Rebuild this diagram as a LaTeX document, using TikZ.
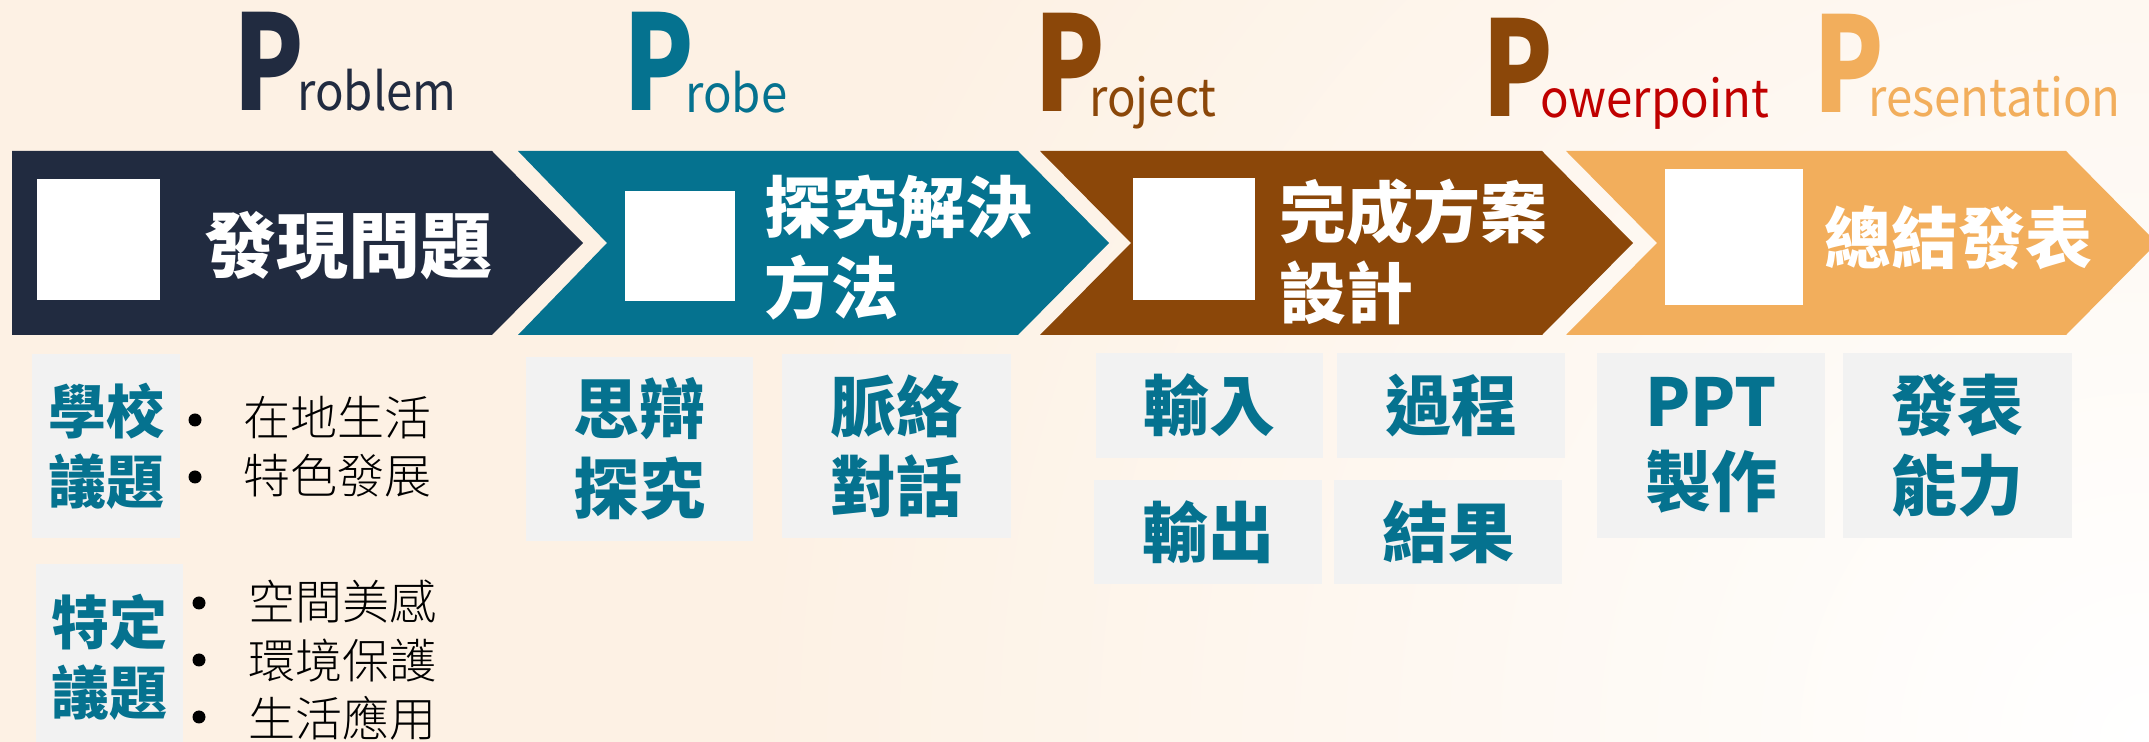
\documentclass[tikz,border=0pt]{standalone}
\usepackage{graphicx}
\usepackage{fontspec}
\setmainfont{Noto Sans CJK TC}
\newfontfamily\lightfont{Noto Sans CJK TC Light}
\newfontfamily\blackfont{Noto Sans CJK TC Black}

\definecolor{navy}{HTML}{212B40}
\definecolor{probeteal}{HTML}{05728F}
\definecolor{projbrown}{HTML}{8B4709}
\definecolor{presorange}{HTML}{F2AE5C}
\definecolor{pptred}{HTML}{C00000}
\definecolor{boxgray}{HTML}{F2F2F2}
\definecolor{cream}{HTML}{FDF1E4}

% narrow letters for the five P's
\newcommand{\bigletter}[1]{\scalebox{0.78}[1]{#1}}
\newcommand{\smallword}[1]{\scalebox{0.91}[1]{#1}}

\begin{document}
\begin{tikzpicture}[x=0.5pt,y=-0.5pt]
\tikzstyle{bigP}=[inner sep=0pt, anchor=base west, text height=49pt, text depth=0pt, font=\blackfont\fontsize{66}{66}\selectfont]
\tikzstyle{pword}=[inner sep=0pt, anchor=base west, font=\fontsize{26}{26}\selectfont]
\tikzstyle{stage}=[text=white, inner sep=0pt, align=left, font=\bfseries\fontsize{33.5}{40.5}\selectfont]
\tikzstyle{icon}=[fill=white, inner sep=0pt]
\tikzstyle{topic}=[fill=boxgray, text=probeteal, inner sep=0pt, align=center, font=\bfseries\fontsize{33}{40}\selectfont]
\tikzstyle{item}=[inner sep=0pt, anchor=west, font=\lightfont\fontsize{23.5}{29}\selectfont]
\tikzstyle{dot}=[circle, fill=black, inner sep=0pt, minimum size=6.5pt]

% background
\useasboundingbox (0,0) rectangle (2149,742);
\fill[cream] (0,0) rectangle (2149,742);
\begin{scope}
\clip (0,0) rectangle (2149,742);
\shade[inner color=white, outer color=cream] (2149,742) circle (1400);
\end{scope}

% chevrons
\fill[navy] (12,151) -- (492,151) -- (583,243) -- (492,335) -- (12,335) -- cycle;
\fill[probeteal] (518,151) -- (1018,151) -- (1109,243) -- (1018,335) -- (518,335) -- (607,243) -- cycle;
\fill[projbrown] (1040,151) -- (1542,151) -- (1633,243) -- (1542,335) -- (1040,335) -- (1131,243) -- cycle;
\fill[presorange] (1566,151) -- (2066,151) -- (2157,243) -- (2066,335) -- (1566,335) -- (1657,243) -- cycle;

\node[icon, minimum width=61.5pt, minimum height=60.5pt] (ic1) at (98.5,239.5) {};
\node[icon, minimum width=55pt, minimum height=55pt] (ic2) at (680,246) {};
\node[icon, minimum width=61pt, minimum height=61pt] (ic3) at (1194,239) {};
\node[icon, minimum width=69pt, minimum height=68pt] (ic4) at (1734,237) {};

\node[stage, font=\bfseries\fontsize{36}{43}\selectfont] (s1) at (348,246) {發現問題};
\node[stage, anchor=west] (s2) at (764,248) {探究解決\\方法};
\node[stage, anchor=west] (s3) at (1279,252) {完成方案\\設計};
\node[stage] (s4) at (1958,238) {總結發表};

% five P's
\node[bigP, text=navy] (p1) at (233,111) {\bigletter{P}};
\node[pword, text=navy] (w1) at (297,111) {\smallword{roblem}};
\node[bigP, text=probeteal] (p2) at (623,111) {\bigletter{P}};
\node[pword, text=probeteal] (w2) at (685,113) {\smallword{robe}};
\node[bigP, text=projbrown] (p3) at (1034,112) {\bigletter{P}};
\node[pword, text=projbrown] (w3) at (1089,117) {\smallword{roject}};
\node[bigP, text=projbrown] (p4) at (1482,117) {\bigletter{P}};
\node[pword, text=pptred] (w4) at (1540,118) {\smallword{owerpoint}};
\node[bigP, text=presorange] (p5) at (1813,113) {\bigletter{P}};
\node[pword, text=presorange] (w5) at (1868,117) {\smallword{resentation}};

% topics
\node[topic, minimum width=74pt, minimum height=92pt, font=\bfseries\fontsize{29}{35}\selectfont] (t1) at (106,446) {學校\\議題};
\node[dot] (d1) at (195,420) {};
\node[item] (i1) at (243,418) {在地生活};
\node[dot] (d2) at (195,477) {};
\node[item] (i2) at (243,476) {特色發展};

\node[topic, minimum width=73.5pt, minimum height=93pt, font=\bfseries\fontsize{29}{35}\selectfont] (t2) at (109.5,657) {特定\\議題};
\node[dot] (d3) at (199,603) {};
\node[item] (i3) at (248,602) {空間美感};
\node[dot] (d4) at (199,660) {};
\node[item] (i4) at (248,661) {環境保護};
\node[dot] (d5) at (199,717) {};
\node[item] (i5) at (248,718) {生活應用};

\node[topic, minimum width=113.5pt, minimum height=92pt] (t3) at (639.5,449) {思辯\\探究};
\node[topic, minimum width=114.5pt, minimum height=92pt] (t4) at (896.5,446) {脈絡\\對話};

\node[topic, minimum width=113.5pt, minimum height=52.5pt] (t5) at (1209.5,405.5) {輸入};
\node[topic, minimum width=114pt, minimum height=52.5pt] (t6) at (1451,405.5) {過程};
\node[topic, minimum width=114pt, minimum height=52pt] (t7) at (1208,532) {輸出};
\node[topic, minimum width=114pt, minimum height=52pt] (t8) at (1448,532) {結果};

\node[topic, minimum width=114pt, minimum height=92.5pt] (t9) at (1711,445.5) {PPT\\製作};
\node[topic, minimum width=114.5pt, minimum height=92.5pt] (t10) at (1957.5,445.5) {發表\\能力};
\end{tikzpicture}
\end{document}
